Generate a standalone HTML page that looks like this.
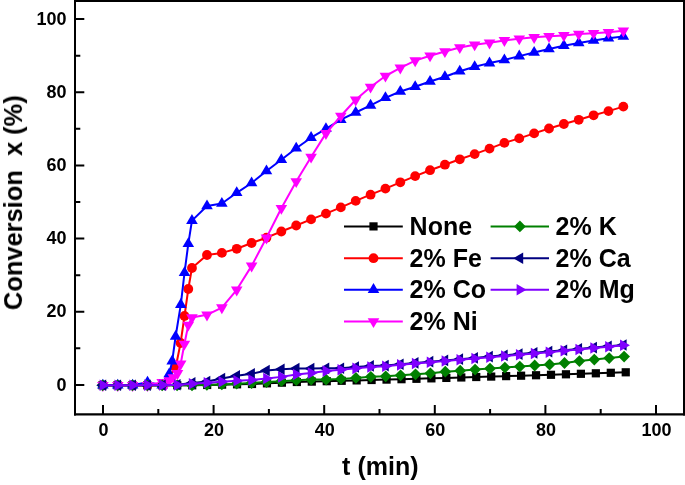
<!DOCTYPE html><html><head><meta charset="utf-8"><style>html,body{margin:0;padding:0;background:#fff;width:685px;height:485px;overflow:hidden}svg{display:block}text{will-change:transform}text{font-family:"Liberation Sans",sans-serif;font-weight:bold;fill:#000}</style></head><body>
<svg width="685" height="485" viewBox="0 0 685 485">
<rect width="685" height="485" fill="#fff"/>
<path d="M102.5 385.3 L117.45 385.3 L132.4 385.3 L147.35 385.3 L162.3 385.3 L177.25 385.3 L192.2 385.3 L207.15 384.98 L222.1 384.65 L237.05 384.32 L252 384 L266.95 383.33 L281.9 382.67 L296.85 382 L311.8 381.6 L326.75 381.2 L341.7 380.8 L356.65 380.4 L371.6 380 L386.55 379.6 L401.5 379.2 L416.45 378.8 L431.4 378.36 L446.35 377.91 L461.3 377.47 L476.25 377.02 L491.2 376.58 L506.15 376.13 L521.1 375.69 L536.05 375.24 L551 374.8 L565.95 374.3 L580.9 373.8 L595.85 373.3 L610.8 372.8 L625.75 372.3" fill="none" stroke="#000000" stroke-width="2" stroke-linejoin="round"/>
<g fill="#000000"><rect x="98.4" y="381.2" width="8.2" height="8.2"/><rect x="113.35" y="381.2" width="8.2" height="8.2"/><rect x="128.3" y="381.2" width="8.2" height="8.2"/><rect x="143.25" y="381.2" width="8.2" height="8.2"/><rect x="158.2" y="381.2" width="8.2" height="8.2"/><rect x="173.15" y="381.2" width="8.2" height="8.2"/><rect x="188.1" y="381.2" width="8.2" height="8.2"/><rect x="203.05" y="380.88" width="8.2" height="8.2"/><rect x="218" y="380.55" width="8.2" height="8.2"/><rect x="232.95" y="380.22" width="8.2" height="8.2"/><rect x="247.9" y="379.9" width="8.2" height="8.2"/><rect x="262.85" y="379.23" width="8.2" height="8.2"/><rect x="277.8" y="378.57" width="8.2" height="8.2"/><rect x="292.75" y="377.9" width="8.2" height="8.2"/><rect x="307.7" y="377.5" width="8.2" height="8.2"/><rect x="322.65" y="377.1" width="8.2" height="8.2"/><rect x="337.6" y="376.7" width="8.2" height="8.2"/><rect x="352.55" y="376.3" width="8.2" height="8.2"/><rect x="367.5" y="375.9" width="8.2" height="8.2"/><rect x="382.45" y="375.5" width="8.2" height="8.2"/><rect x="397.4" y="375.1" width="8.2" height="8.2"/><rect x="412.35" y="374.7" width="8.2" height="8.2"/><rect x="427.3" y="374.26" width="8.2" height="8.2"/><rect x="442.25" y="373.81" width="8.2" height="8.2"/><rect x="457.2" y="373.37" width="8.2" height="8.2"/><rect x="472.15" y="372.92" width="8.2" height="8.2"/><rect x="487.1" y="372.48" width="8.2" height="8.2"/><rect x="502.05" y="372.03" width="8.2" height="8.2"/><rect x="517" y="371.59" width="8.2" height="8.2"/><rect x="531.95" y="371.14" width="8.2" height="8.2"/><rect x="546.9" y="370.7" width="8.2" height="8.2"/><rect x="561.85" y="370.2" width="8.2" height="8.2"/><rect x="576.8" y="369.7" width="8.2" height="8.2"/><rect x="591.75" y="369.2" width="8.2" height="8.2"/><rect x="606.7" y="368.7" width="8.2" height="8.2"/><rect x="621.65" y="368.2" width="8.2" height="8.2"/></g>
<path d="M102.9 385.3 L117.77 385.3 L132.64 385.3 L147.51 385.3 L162.2 385.3 L175.6 367.7 L180.6 343 L184.5 316 L188.3 289 L191.95 268 L206.99 255 L221.86 252.9 L236.73 248.8 L251.6 243 L266.47 237.7 L281.34 231.5 L296.21 225.5 L311.08 219.4 L325.95 213.6 L340.82 207.4 L355.69 200.9 L370.56 194.7 L385.43 188.6 L400.3 182.3 L415.17 176.1 L430.04 170.2 L444.91 164.7 L459.78 159.3 L474.65 154.1 L489.52 148.6 L504.39 142.9 L519.26 138.4 L534.13 133.4 L549 128.5 L563.87 124 L578.74 119.8 L593.61 115.3 L608.48 111.1 L623.35 106.6" fill="none" stroke="#ff0000" stroke-width="2" stroke-linejoin="round"/>
<g fill="#ff0000"><circle cx="102.9" cy="385.3" r="4.9"/><circle cx="117.77" cy="385.3" r="4.9"/><circle cx="132.64" cy="385.3" r="4.9"/><circle cx="147.51" cy="385.3" r="4.9"/><circle cx="162.2" cy="385.3" r="4.9"/><circle cx="175.6" cy="367.7" r="4.9"/><circle cx="180.6" cy="343" r="4.9"/><circle cx="184.5" cy="316" r="4.9"/><circle cx="188.3" cy="289" r="4.9"/><circle cx="191.95" cy="268" r="4.9"/><circle cx="206.99" cy="255" r="4.9"/><circle cx="221.86" cy="252.9" r="4.9"/><circle cx="236.73" cy="248.8" r="4.9"/><circle cx="251.6" cy="243" r="4.9"/><circle cx="266.47" cy="237.7" r="4.9"/><circle cx="281.34" cy="231.5" r="4.9"/><circle cx="296.21" cy="225.5" r="4.9"/><circle cx="311.08" cy="219.4" r="4.9"/><circle cx="325.95" cy="213.6" r="4.9"/><circle cx="340.82" cy="207.4" r="4.9"/><circle cx="355.69" cy="200.9" r="4.9"/><circle cx="370.56" cy="194.7" r="4.9"/><circle cx="385.43" cy="188.6" r="4.9"/><circle cx="400.3" cy="182.3" r="4.9"/><circle cx="415.17" cy="176.1" r="4.9"/><circle cx="430.04" cy="170.2" r="4.9"/><circle cx="444.91" cy="164.7" r="4.9"/><circle cx="459.78" cy="159.3" r="4.9"/><circle cx="474.65" cy="154.1" r="4.9"/><circle cx="489.52" cy="148.6" r="4.9"/><circle cx="504.39" cy="142.9" r="4.9"/><circle cx="519.26" cy="138.4" r="4.9"/><circle cx="534.13" cy="133.4" r="4.9"/><circle cx="549" cy="128.5" r="4.9"/><circle cx="563.87" cy="124" r="4.9"/><circle cx="578.74" cy="119.8" r="4.9"/><circle cx="593.61" cy="115.3" r="4.9"/><circle cx="608.48" cy="111.1" r="4.9"/><circle cx="623.35" cy="106.6" r="4.9"/></g>
<path d="M102.9 385.3 L117.77 385.3 L132.64 385.3 L147.51 382.3 L162.2 385.3 L165.8 382 L169.2 374 L172.2 361.2 L175.6 336.5 L180.8 304.7 L184.5 272.8 L188.3 243.8 L191.95 220.6 L206.99 206 L221.86 203.5 L236.73 192.8 L251.6 183 L266.47 171 L281.34 159.8 L296.21 148.3 L311.08 137.7 L325.95 128.8 L340.82 119.7 L355.69 112.5 L370.56 105.4 L385.43 97.8 L400.3 91.5 L415.17 86.8 L430.04 81.5 L444.91 76.8 L459.78 71.3 L474.65 66.8 L489.52 63.1 L504.39 60 L519.26 56.1 L534.13 52.5 L549 49 L563.87 45.7 L578.74 42.9 L593.61 40.4 L608.48 38.2 L623.35 36.4" fill="none" stroke="#0000ff" stroke-width="2" stroke-linejoin="round"/>
<g fill="#0000ff"><path d="M102.9 378.7L108.7 388.6L97.1 388.6Z"/><path d="M117.77 378.7L123.57 388.6L111.97 388.6Z"/><path d="M132.64 378.7L138.44 388.6L126.84 388.6Z"/><path d="M147.51 375.7L153.31 385.6L141.71 385.6Z"/><path d="M162.2 378.7L168 388.6L156.4 388.6Z"/><path d="M165.8 375.4L171.6 385.3L160 385.3Z"/><path d="M169.2 367.4L175 377.3L163.4 377.3Z"/><path d="M172.2 354.6L178 364.5L166.4 364.5Z"/><path d="M175.6 329.9L181.4 339.8L169.8 339.8Z"/><path d="M180.8 298.1L186.6 308L175 308Z"/><path d="M184.5 266.2L190.3 276.1L178.7 276.1Z"/><path d="M188.3 237.2L194.1 247.1L182.5 247.1Z"/><path d="M191.95 214L197.75 223.9L186.15 223.9Z"/><path d="M206.99 199.4L212.79 209.3L201.19 209.3Z"/><path d="M221.86 196.9L227.66 206.8L216.06 206.8Z"/><path d="M236.73 186.2L242.53 196.1L230.93 196.1Z"/><path d="M251.6 176.4L257.4 186.3L245.8 186.3Z"/><path d="M266.47 164.4L272.27 174.3L260.67 174.3Z"/><path d="M281.34 153.2L287.14 163.1L275.54 163.1Z"/><path d="M296.21 141.7L302.01 151.6L290.41 151.6Z"/><path d="M311.08 131.1L316.88 141L305.28 141Z"/><path d="M325.95 122.2L331.75 132.1L320.15 132.1Z"/><path d="M340.82 113.1L346.62 123L335.02 123Z"/><path d="M355.69 105.9L361.49 115.8L349.89 115.8Z"/><path d="M370.56 98.8L376.36 108.7L364.76 108.7Z"/><path d="M385.43 91.2L391.23 101.1L379.63 101.1Z"/><path d="M400.3 84.9L406.1 94.8L394.5 94.8Z"/><path d="M415.17 80.2L420.97 90.1L409.37 90.1Z"/><path d="M430.04 74.9L435.84 84.8L424.24 84.8Z"/><path d="M444.91 70.2L450.71 80.1L439.11 80.1Z"/><path d="M459.78 64.7L465.58 74.6L453.98 74.6Z"/><path d="M474.65 60.2L480.45 70.1L468.85 70.1Z"/><path d="M489.52 56.5L495.32 66.4L483.72 66.4Z"/><path d="M504.39 53.4L510.19 63.3L498.59 63.3Z"/><path d="M519.26 49.5L525.06 59.4L513.46 59.4Z"/><path d="M534.13 45.9L539.93 55.8L528.33 55.8Z"/><path d="M549 42.4L554.8 52.3L543.2 52.3Z"/><path d="M563.87 39.1L569.67 49L558.07 49Z"/><path d="M578.74 36.3L584.54 46.2L572.94 46.2Z"/><path d="M593.61 33.8L599.41 43.7L587.81 43.7Z"/><path d="M608.48 31.6L614.28 41.5L602.68 41.5Z"/><path d="M623.35 29.8L629.15 39.7L617.55 39.7Z"/></g>
<path d="M102.9 385.3 L117.77 385.3 L132.64 385.3 L147.51 385.3 L162.2 382.2 L165.9 384.5 L169.4 380.5 L173.3 377.5 L177.5 373.3 L180.7 363.8 L184.4 344 L188.3 325 L191.95 317.6 L206.99 314.8 L221.86 307.6 L236.73 289.8 L251.6 265.9 L266.47 237.8 L281.34 208.2 L296.21 181.5 L311.08 157 L325.95 133.4 L340.82 116 L355.69 99.8 L370.56 87 L385.43 76 L400.3 67.8 L415.17 60.6 L430.04 55.7 L444.91 51.5 L459.78 47.5 L474.65 44.7 L489.52 42.8 L504.39 40.4 L519.26 38.7 L534.13 37.3 L549 36.3 L563.87 35.4 L578.74 34.1 L593.61 33.2 L608.48 32.3 L623.35 30.8" fill="none" stroke="#ff00ff" stroke-width="2" stroke-linejoin="round"/>
<g fill="#ff00ff"><path d="M102.9 391.9L108.7 382L97.1 382Z"/><path d="M117.77 391.9L123.57 382L111.97 382Z"/><path d="M132.64 391.9L138.44 382L126.84 382Z"/><path d="M147.51 391.9L153.31 382L141.71 382Z"/><path d="M162.2 388.8L168 378.9L156.4 378.9Z"/><path d="M165.9 391.1L171.7 381.2L160.1 381.2Z"/><path d="M169.4 387.1L175.2 377.2L163.6 377.2Z"/><path d="M173.3 384.1L179.1 374.2L167.5 374.2Z"/><path d="M177.5 379.9L183.3 370L171.7 370Z"/><path d="M180.7 370.4L186.5 360.5L174.9 360.5Z"/><path d="M184.4 350.6L190.2 340.7L178.6 340.7Z"/><path d="M188.3 331.6L194.1 321.7L182.5 321.7Z"/><path d="M191.95 324.2L197.75 314.3L186.15 314.3Z"/><path d="M206.99 321.4L212.79 311.5L201.19 311.5Z"/><path d="M221.86 314.2L227.66 304.3L216.06 304.3Z"/><path d="M236.73 296.4L242.53 286.5L230.93 286.5Z"/><path d="M251.6 272.5L257.4 262.6L245.8 262.6Z"/><path d="M266.47 244.4L272.27 234.5L260.67 234.5Z"/><path d="M281.34 214.8L287.14 204.9L275.54 204.9Z"/><path d="M296.21 188.1L302.01 178.2L290.41 178.2Z"/><path d="M311.08 163.6L316.88 153.7L305.28 153.7Z"/><path d="M325.95 140L331.75 130.1L320.15 130.1Z"/><path d="M340.82 122.6L346.62 112.7L335.02 112.7Z"/><path d="M355.69 106.4L361.49 96.5L349.89 96.5Z"/><path d="M370.56 93.6L376.36 83.7L364.76 83.7Z"/><path d="M385.43 82.6L391.23 72.7L379.63 72.7Z"/><path d="M400.3 74.4L406.1 64.5L394.5 64.5Z"/><path d="M415.17 67.2L420.97 57.3L409.37 57.3Z"/><path d="M430.04 62.3L435.84 52.4L424.24 52.4Z"/><path d="M444.91 58.1L450.71 48.2L439.11 48.2Z"/><path d="M459.78 54.1L465.58 44.2L453.98 44.2Z"/><path d="M474.65 51.3L480.45 41.4L468.85 41.4Z"/><path d="M489.52 49.4L495.32 39.5L483.72 39.5Z"/><path d="M504.39 47L510.19 37.1L498.59 37.1Z"/><path d="M519.26 45.3L525.06 35.4L513.46 35.4Z"/><path d="M534.13 43.9L539.93 34L528.33 34Z"/><path d="M549 42.9L554.8 33L543.2 33Z"/><path d="M563.87 42L569.67 32.1L558.07 32.1Z"/><path d="M578.74 40.7L584.54 30.8L572.94 30.8Z"/><path d="M593.61 39.8L599.41 29.9L587.81 29.9Z"/><path d="M608.48 38.9L614.28 29L602.68 29Z"/><path d="M623.35 37.4L629.15 27.5L617.55 27.5Z"/></g>
<path d="M102.6 385.3 L117.5 385.3 L132.4 385.3 L147.3 385.3 L162.2 385.3 L177.1 385.3 L192 385.3 L206.9 384.85 L221.8 384.4 L236.7 383.7 L251.6 383 L266.5 382.07 L281.4 381.13 L296.3 380.2 L311.2 379.57 L326.1 379.53 L341 378.9 L355.9 377.88 L370.8 376.86 L385.7 376.34 L400.6 375.32 L415.5 374.3 L430.4 373.28 L445.3 371.66 L460.2 370.63 L475.1 369.61 L490 368.59 L504.9 367.57 L519.8 366.54 L534.7 365.52 L549.6 364.5 L564.5 363.02 L579.4 361.04 L594.3 359.56 L609.2 358.08 L624.1 356.6" fill="none" stroke="#008000" stroke-width="2" stroke-linejoin="round"/>
<g fill="#008000"><path d="M102.6 379.4L108.5 385.3L102.6 391.2L96.7 385.3Z"/><path d="M117.5 379.4L123.4 385.3L117.5 391.2L111.6 385.3Z"/><path d="M132.4 379.4L138.3 385.3L132.4 391.2L126.5 385.3Z"/><path d="M147.3 379.4L153.2 385.3L147.3 391.2L141.4 385.3Z"/><path d="M162.2 379.4L168.1 385.3L162.2 391.2L156.3 385.3Z"/><path d="M177.1 379.4L183 385.3L177.1 391.2L171.2 385.3Z"/><path d="M192 379.4L197.9 385.3L192 391.2L186.1 385.3Z"/><path d="M206.9 378.95L212.8 384.85L206.9 390.75L201 384.85Z"/><path d="M221.8 378.5L227.7 384.4L221.8 390.3L215.9 384.4Z"/><path d="M236.7 377.8L242.6 383.7L236.7 389.6L230.8 383.7Z"/><path d="M251.6 377.1L257.5 383L251.6 388.9L245.7 383Z"/><path d="M266.5 376.17L272.4 382.07L266.5 387.97L260.6 382.07Z"/><path d="M281.4 375.23L287.3 381.13L281.4 387.03L275.5 381.13Z"/><path d="M296.3 374.3L302.2 380.2L296.3 386.1L290.4 380.2Z"/><path d="M311.2 373.67L317.1 379.57L311.2 385.47L305.3 379.57Z"/><path d="M326.1 373.63L332 379.53L326.1 385.43L320.2 379.53Z"/><path d="M341 373L346.9 378.9L341 384.8L335.1 378.9Z"/><path d="M355.9 371.98L361.8 377.88L355.9 383.78L350 377.88Z"/><path d="M370.8 370.96L376.7 376.86L370.8 382.76L364.9 376.86Z"/><path d="M385.7 370.44L391.6 376.34L385.7 382.24L379.8 376.34Z"/><path d="M400.6 369.42L406.5 375.32L400.6 381.22L394.7 375.32Z"/><path d="M415.5 368.4L421.4 374.3L415.5 380.2L409.6 374.3Z"/><path d="M430.4 367.38L436.3 373.28L430.4 379.18L424.5 373.28Z"/><path d="M445.3 365.76L451.2 371.66L445.3 377.56L439.4 371.66Z"/><path d="M460.2 364.73L466.1 370.63L460.2 376.53L454.3 370.63Z"/><path d="M475.1 363.71L481 369.61L475.1 375.51L469.2 369.61Z"/><path d="M490 362.69L495.9 368.59L490 374.49L484.1 368.59Z"/><path d="M504.9 361.67L510.8 367.57L504.9 373.47L499 367.57Z"/><path d="M519.8 360.64L525.7 366.54L519.8 372.44L513.9 366.54Z"/><path d="M534.7 359.62L540.6 365.52L534.7 371.42L528.8 365.52Z"/><path d="M549.6 358.6L555.5 364.5L549.6 370.4L543.7 364.5Z"/><path d="M564.5 357.12L570.4 363.02L564.5 368.92L558.6 363.02Z"/><path d="M579.4 355.14L585.3 361.04L579.4 366.94L573.5 361.04Z"/><path d="M594.3 353.66L600.2 359.56L594.3 365.46L588.4 359.56Z"/><path d="M609.2 352.18L615.1 358.08L609.2 363.98L603.3 358.08Z"/><path d="M624.1 350.7L630 356.6L624.1 362.5L618.2 356.6Z"/></g>
<path d="M102.9 385.3 L117.77 385.3 L132.64 385.3 L147.51 385.3 L162.38 385.3 L177.25 384.7 L192.12 382.9 L206.99 381.5 L221.86 378.5 L236.73 375.8 L251.6 373.8 L266.47 370.5 L281.34 369.2 L296.21 368.6 L311.08 368.47 L325.95 368.33 L340.82 368.2 L355.69 367.06 L370.56 365.92 L385.43 365.62 L400.3 364.26 L415.17 362.9 L430.04 361.64 L444.91 360.39 L459.78 359.13 L474.65 357.88 L489.52 356.62 L504.39 355.37 L519.26 354.11 L534.13 352.86 L549 351.6 L563.87 350.22 L578.74 348.9 L593.61 347.6 L608.48 346.3 L623.35 345" fill="none" stroke="#000080" stroke-width="2" stroke-linejoin="round"/>
<g fill="#000080"><path d="M96.3 385.3L106.2 379.5L106.2 391.1Z"/><path d="M111.17 385.3L121.07 379.5L121.07 391.1Z"/><path d="M126.04 385.3L135.94 379.5L135.94 391.1Z"/><path d="M140.91 385.3L150.81 379.5L150.81 391.1Z"/><path d="M155.78 385.3L165.68 379.5L165.68 391.1Z"/><path d="M170.65 384.7L180.55 378.9L180.55 390.5Z"/><path d="M185.52 382.9L195.42 377.1L195.42 388.7Z"/><path d="M200.39 381.5L210.29 375.7L210.29 387.3Z"/><path d="M215.26 378.5L225.16 372.7L225.16 384.3Z"/><path d="M230.13 375.8L240.03 370L240.03 381.6Z"/><path d="M245 373.8L254.9 368L254.9 379.6Z"/><path d="M259.87 370.5L269.77 364.7L269.77 376.3Z"/><path d="M274.74 369.2L284.64 363.4L284.64 375Z"/><path d="M289.61 368.6L299.51 362.8L299.51 374.4Z"/><path d="M304.48 368.47L314.38 362.67L314.38 374.27Z"/><path d="M319.35 368.33L329.25 362.53L329.25 374.13Z"/><path d="M334.22 368.2L344.12 362.4L344.12 374Z"/><path d="M349.09 367.06L358.99 361.26L358.99 372.86Z"/><path d="M363.96 365.92L373.86 360.12L373.86 371.72Z"/><path d="M378.83 365.62L388.73 359.82L388.73 371.42Z"/><path d="M393.7 364.26L403.6 358.46L403.6 370.06Z"/><path d="M408.57 362.9L418.47 357.1L418.47 368.7Z"/><path d="M423.44 361.64L433.34 355.84L433.34 367.44Z"/><path d="M438.31 360.39L448.21 354.59L448.21 366.19Z"/><path d="M453.18 359.13L463.08 353.33L463.08 364.93Z"/><path d="M468.05 357.88L477.95 352.08L477.95 363.68Z"/><path d="M482.92 356.62L492.82 350.82L492.82 362.42Z"/><path d="M497.79 355.37L507.69 349.57L507.69 361.17Z"/><path d="M512.66 354.11L522.56 348.31L522.56 359.91Z"/><path d="M527.53 352.86L537.43 347.06L537.43 358.66Z"/><path d="M542.4 351.6L552.3 345.8L552.3 357.4Z"/><path d="M557.27 350.22L567.17 344.42L567.17 356.02Z"/><path d="M572.14 348.9L582.04 343.1L582.04 354.7Z"/><path d="M587.01 347.6L596.91 341.8L596.91 353.4Z"/><path d="M601.88 346.3L611.78 340.5L611.78 352.1Z"/><path d="M616.75 345L626.65 339.2L626.65 350.8Z"/></g>
<path d="M102.9 385.3 L117.77 385.24 L132.64 385.18 L147.51 385.12 L162.38 385.06 L177.25 385 L192.12 383.8 L206.99 382.8 L221.86 381.8 L236.73 380.8 L251.6 380 L266.47 378.43 L281.34 376.87 L296.21 374.5 L311.08 373.1 L325.95 371.1 L340.82 369.7 L355.69 368.34 L370.56 366.98 L385.43 366.22 L400.3 364.86 L415.17 363.5 L430.04 362.24 L444.91 360.99 L459.78 359.73 L474.65 358.48 L489.52 357.22 L504.39 355.97 L519.26 354.71 L534.13 353.46 L549 352.2 L563.87 350.82 L578.74 349.44 L593.61 348.06 L608.48 346.68 L623.35 345.3" fill="none" stroke="#8000ff" stroke-width="2" stroke-linejoin="round"/>
<g fill="#8000ff"><path d="M109.5 385.3L99.6 379.5L99.6 391.1Z"/><path d="M124.37 385.24L114.47 379.44L114.47 391.04Z"/><path d="M139.24 385.18L129.34 379.38L129.34 390.98Z"/><path d="M154.11 385.12L144.21 379.32L144.21 390.92Z"/><path d="M168.98 385.06L159.08 379.26L159.08 390.86Z"/><path d="M183.85 385L173.95 379.2L173.95 390.8Z"/><path d="M198.72 383.8L188.82 378L188.82 389.6Z"/><path d="M213.59 382.8L203.69 377L203.69 388.6Z"/><path d="M228.46 381.8L218.56 376L218.56 387.6Z"/><path d="M243.33 380.8L233.43 375L233.43 386.6Z"/><path d="M258.2 380L248.3 374.2L248.3 385.8Z"/><path d="M273.07 378.43L263.17 372.63L263.17 384.23Z"/><path d="M287.94 376.87L278.04 371.07L278.04 382.67Z"/><path d="M302.81 374.5L292.91 368.7L292.91 380.3Z"/><path d="M317.68 373.1L307.78 367.3L307.78 378.9Z"/><path d="M332.55 371.1L322.65 365.3L322.65 376.9Z"/><path d="M347.42 369.7L337.52 363.9L337.52 375.5Z"/><path d="M362.29 368.34L352.39 362.54L352.39 374.14Z"/><path d="M377.16 366.98L367.26 361.18L367.26 372.78Z"/><path d="M392.03 366.22L382.13 360.42L382.13 372.02Z"/><path d="M406.9 364.86L397 359.06L397 370.66Z"/><path d="M421.77 363.5L411.87 357.7L411.87 369.3Z"/><path d="M436.64 362.24L426.74 356.44L426.74 368.04Z"/><path d="M451.51 360.99L441.61 355.19L441.61 366.79Z"/><path d="M466.38 359.73L456.48 353.93L456.48 365.53Z"/><path d="M481.25 358.48L471.35 352.68L471.35 364.28Z"/><path d="M496.12 357.22L486.22 351.42L486.22 363.02Z"/><path d="M510.99 355.97L501.09 350.17L501.09 361.77Z"/><path d="M525.86 354.71L515.96 348.91L515.96 360.51Z"/><path d="M540.73 353.46L530.83 347.66L530.83 359.26Z"/><path d="M555.6 352.2L545.7 346.4L545.7 358Z"/><path d="M570.47 350.82L560.57 345.02L560.57 356.62Z"/><path d="M585.34 349.44L575.44 343.64L575.44 355.24Z"/><path d="M600.21 348.06L590.31 342.26L590.31 353.86Z"/><path d="M615.08 346.68L605.18 340.88L605.18 352.48Z"/><path d="M629.95 345.3L620.05 339.5L620.05 351.1Z"/></g>
<path d="M74 1H685M75 0V415.4M684 0V415.4" stroke="#000" stroke-width="2" fill="none"/>
<path d="M74 414.3H685" stroke="#000" stroke-width="2.2" fill="none"/>
<path d="M75 384.9h9.3M75 348.32h5.3M75 311.74h9.3M75 275.16h5.3M75 238.58h9.3M75 202h5.3M75 165.42h9.3M75 128.84h5.3M75 92.26h9.3M75 55.68h5.3M75 19.1h9.3M103 414v-9M158.3 414v-5M213.6 414v-9M268.9 414v-5M324.2 414v-9M379.5 414v-5M434.8 414v-9M490.1 414v-5M545.4 414v-9M600.7 414v-5M656 414v-9" stroke="#000" stroke-width="2" fill="none"/>
<text transform="translate(66.6 390.6) scale(1 1.04)" font-size="18" text-anchor="end" xml:space="preserve">0</text>
<text transform="translate(66.6 317.44) scale(1 1.04)" font-size="18" text-anchor="end" xml:space="preserve">20</text>
<text transform="translate(66.6 244.28) scale(1 1.04)" font-size="18" text-anchor="end" xml:space="preserve">40</text>
<text transform="translate(66.6 171.12) scale(1 1.04)" font-size="18" text-anchor="end" xml:space="preserve">60</text>
<text transform="translate(66.6 97.96) scale(1 1.04)" font-size="18" text-anchor="end" xml:space="preserve">80</text>
<text transform="translate(66.6 24.8) scale(1 1.04)" font-size="18" text-anchor="end" xml:space="preserve">100</text>
<text transform="translate(103.5 436.2) scale(1 1.04)" font-size="18" text-anchor="middle" xml:space="preserve">0</text>
<text transform="translate(214.1 436.2) scale(1 1.04)" font-size="18" text-anchor="middle" xml:space="preserve">20</text>
<text transform="translate(324.7 436.2) scale(1 1.04)" font-size="18" text-anchor="middle" xml:space="preserve">40</text>
<text transform="translate(435.3 436.2) scale(1 1.04)" font-size="18" text-anchor="middle" xml:space="preserve">60</text>
<text transform="translate(545.9 436.2) scale(1 1.04)" font-size="18" text-anchor="middle" xml:space="preserve">80</text>
<text transform="translate(656.5 436.2) scale(1 1.04)" font-size="18" text-anchor="middle" xml:space="preserve">100</text>
<text transform="translate(380.3 474.9) scale(1 1.04)" font-size="25" text-anchor="middle" xml:space="preserve">t (min)</text>
<text transform="translate(22 202.65) rotate(-90) scale(1 1.04)" font-size="25.45" text-anchor="middle" xml:space="preserve">Conversion  x (%)</text>
<path d="M344 226.4H402.8" stroke="#000000" stroke-width="2"/>
<g fill="#000000"><rect x="369.4" y="222.3" width="8.2" height="8.2"/></g>
<text transform="translate(409.6 235.2) scale(1 1.04)" font-size="25" xml:space="preserve">None</text>
<path d="M344 258.2H402.8" stroke="#ff0000" stroke-width="2"/>
<g fill="#ff0000"><circle cx="373.5" cy="258.2" r="4.9"/></g>
<text transform="translate(409.6 267) scale(1 1.04)" font-size="25" xml:space="preserve">2% Fe</text>
<path d="M344 289.7H402.8" stroke="#0000ff" stroke-width="2"/>
<g fill="#0000ff"><path d="M373.5 283.1L379.3 293L367.7 293Z"/></g>
<text transform="translate(409.6 298.5) scale(1 1.04)" font-size="25" xml:space="preserve">2% Co</text>
<path d="M344 321.5H402.8" stroke="#ff00ff" stroke-width="2"/>
<g fill="#ff00ff"><path d="M373.5 328.1L379.3 318.2L367.7 318.2Z"/></g>
<text transform="translate(409.6 330.3) scale(1 1.04)" font-size="25" xml:space="preserve">2% Ni</text>
<path d="M490.6 226.4H549" stroke="#008000" stroke-width="2"/>
<g fill="#008000"><path d="M519.9 220.5L525.8 226.4L519.9 232.3L514 226.4Z"/></g>
<text transform="translate(555.6 235.2) scale(1 1.04)" font-size="25" xml:space="preserve">2% K</text>
<path d="M490.6 258.2H549" stroke="#000080" stroke-width="2"/>
<g fill="#000080"><path d="M513.3 258.2L523.2 252.4L523.2 264Z"/></g>
<text transform="translate(555.6 267) scale(1 1.04)" font-size="25" xml:space="preserve">2% Ca</text>
<path d="M490.6 289.7H549" stroke="#8000ff" stroke-width="2"/>
<g fill="#8000ff"><path d="M526.5 289.7L516.6 283.9L516.6 295.5Z"/></g>
<text transform="translate(555.6 298.5) scale(1 1.04)" font-size="25" xml:space="preserve">2% Mg</text>
</svg></body></html>
